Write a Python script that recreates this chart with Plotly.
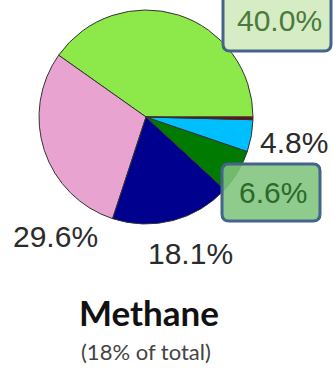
import plotly.graph_objects as go

# Data
sources = ["Source A", "Source B", "Source C", "Source D", "Source E", "Other"]
shares = [40.0, 29.6, 18.1, 6.6, 4.8, 0.4]
colors = ["#8de84a", "#e9a3d0", "#00008e", "#007a00", "#00bfff", "#8b0000"]
label_texts = ["40.0%", "29.6%", "18.1%", "6.6%", "4.8%"]
title_text = "Methane"
subtitle_text = "(18% of total)"

W, H = 333, 368

def px(x):
    return x / W

def py(y):
    return 1 - y / H

# first slice starts at 3 o'clock and sectors run counterclockwise
rot = 90 - 360 * shares[0] / sum(shares)

fig = go.Figure()
cx, cy, r = 146, 117, 107
fig.add_trace(go.Pie(
    labels=sources, values=shares, sort=False, direction="counterclockwise",
    rotation=rot, textinfo="none", hoverinfo="none", showlegend=False,
    marker=dict(colors=colors, line=dict(color="#333333", width=1)),
    domain=dict(x=[px(cx - r), px(cx + r)], y=[py(cy + r), py(cy - r)]),
))

def rounded_rect(x0, y0, x1, y1, rad):
    rx, ry = rad / W, rad / H
    X0, X1 = px(x0), px(x1)
    Y0, Y1 = py(y0), py(y1)  # Y0 top (higher), Y1 bottom
    return (f"M {X0+rx},{Y0} L {X1-rx},{Y0} Q {X1},{Y0} {X1},{Y0-ry} "
            f"L {X1},{Y1+ry} Q {X1},{Y1} {X1-rx},{Y1} L {X0+rx},{Y1} "
            f"Q {X0},{Y1} {X0},{Y1+ry} L {X0},{Y0-ry} Q {X0},{Y0} {X0+rx},{Y0} Z")

shapes = [
    dict(type="path", xref="paper", yref="paper",
         path=rounded_rect(223, -8, 331, 51, 7),
         fillcolor="#d6ecc4", line=dict(color="#45648a", width=3), layer="above"),
    dict(type="path", xref="paper", yref="paper",
         path=rounded_rect(222, 164, 320, 221, 7),
         fillcolor="rgba(128,196,124,0.88)", line=dict(color="#45648a", width=3), layer="above"),
]

font = "Liberation Sans, Arial, sans-serif"
ann = []
ann_pos = [(279, 20, "#4b7a3c"), (55, 236, "#2b2b2b"), (191, 253, "#2b2b2b"),
           (273, 192, "#2a6a2a"), (294, 142, "#2b2b2b")]
for t, (x, y, c) in zip(label_texts, ann_pos):
    ann.append(dict(text=t, x=px(x), y=py(y), xref="paper", yref="paper",
                    xanchor="center", yanchor="middle", showarrow=False,
                    font=dict(family=font, size=30, color=c)))
ann.append(dict(text=f"<b>{title_text}</b>", x=px(149), y=py(312), xref="paper", yref="paper",
                xanchor="center", yanchor="middle", showarrow=False,
                font=dict(family="Lato, sans-serif", size=35, color="#111111")))
ann.append(dict(text=subtitle_text, x=px(146), y=py(351), xref="paper", yref="paper",
                xanchor="center", yanchor="middle", showarrow=False,
                font=dict(family="Lato, sans-serif", size=22, color="#444444")))

fig.update_layout(width=W, height=H, autosize=False,
                  margin=dict(l=0, r=0, t=0, b=0),
                  paper_bgcolor="white", plot_bgcolor="white",
                  shapes=shapes, annotations=ann)
fig.write_html("out.html")
